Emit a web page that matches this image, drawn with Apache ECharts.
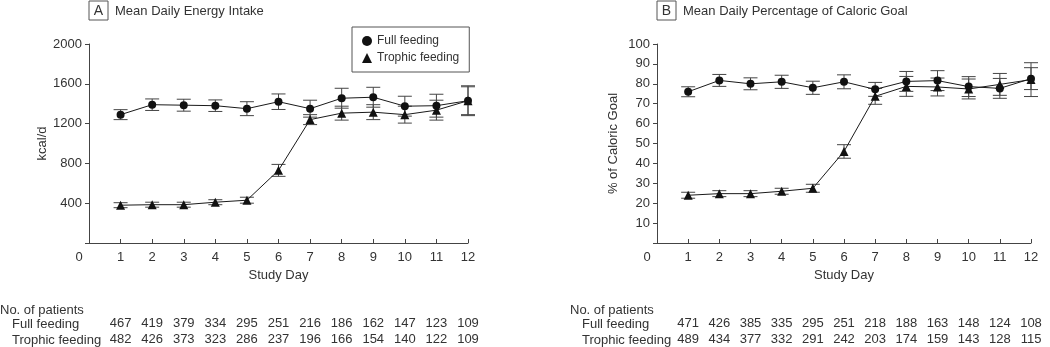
<!DOCTYPE html>
<html>
<head>
<meta charset="utf-8">
<title>Mean daily energy intake</title>
<script src="https://cdn.jsdelivr.net/npm/echarts@6/dist/echarts.min.js"></script>
<style>
  html, body { margin: 0; padding: 0; background: #fff; }
  #chart { width: 1050px; height: 347px; }
</style>
</head>
<body>
<div id="chart"></div>
<script>
// study days on the x axis
var days = [1, 2, 3, 4, 5, 6, 7, 8, 9, 10, 11, 12];

// panel A: kcal/d, mean and error half-width
var energyFull = [1290, 1390, 1385, 1380, 1350, 1420, 1350, 1455, 1465, 1375, 1380, 1430];
var energyFullErr = [50, 58, 60, 58, 70, 78, 85, 100, 100, 100, 115, 140];
var energyTrophic = [380, 385, 385, 410, 430, 730, 1240, 1305, 1315, 1290, 1335, 1430];
var energyTrophicErr = [25, 25, 25, 25, 30, 60, 50, 70, 75, 85, 100, 150];

// panel B: % of caloric goal
var goalFull = [76, 81.7, 80, 81, 78, 81, 77.2, 81.2, 81.6, 78.6, 77.7, 82.6];
var goalFullErr = [2.5, 3, 3, 3.3, 3.3, 3.5, 3.5, 5, 5, 5, 5, 5.5];
var goalTrophic = [24, 24.8, 24.8, 26, 27.5, 46, 73.7, 78.7, 78.4, 77.4, 79.7, 82.1];
var goalTrophicErr = [1.5, 1.5, 1.5, 1.5, 2, 3.4, 4, 5, 4.5, 5, 5.5, 8.5];

// number of patients under each day
var nEnergyFull = [467, 419, 379, 334, 295, 251, 216, 186, 162, 147, 123, 109];
var nEnergyTrophic = [482, 426, 373, 323, 286, 237, 196, 166, 154, 140, 122, 109];
var nGoalFull = [471, 426, 385, 335, 295, 251, 218, 188, 163, 148, 124, 108];
var nGoalTrophic = [489, 434, 377, 332, 291, 242, 203, 174, 159, 143, 128, 115];

var FONT = 'Liberation Sans, Arial, sans-serif';
var TEXT = '#333';
var AXIS = '#444';

function pairs(vals) {
  return days.map(function (d, i) { return [d, vals[i]]; });
}
function ranges(vals, errs) {
  return days.map(function (d, i) { return [d, vals[i] - errs[i], vals[i] + errs[i]]; });
}

function renderErr(params, api) {
  var lo = api.coord([api.value(0), api.value(1)]);
  var hi = api.coord([api.value(0), api.value(2)]);
  var w = 7;
  var st = { stroke: '#444', lineWidth: 1 };
  return {
    type: 'group',
    children: [
      { type: 'line', shape: { x1: lo[0], y1: lo[1], x2: hi[0], y2: hi[1] }, style: st },
      { type: 'line', shape: { x1: lo[0] - w, y1: lo[1], x2: lo[0] + w, y2: lo[1] }, style: st },
      { type: 'line', shape: { x1: hi[0] - w, y1: hi[1], x2: hi[0] + w, y2: hi[1] }, style: st }
    ]
  };
}

function mainX(grid) {
  return {
    type: 'value', gridIndex: grid, min: 0, max: 12, interval: 1,
    name: 'Study Day', nameLocation: 'middle', nameGap: 25,
    nameTextStyle: { color: TEXT, fontSize: 13, fontFamily: FONT },
    axisLine: { lineStyle: { color: AXIS, width: 1 } },
    axisTick: { inside: true, length: 4, lineStyle: { color: AXIS } },
    splitLine: { show: false },
    axisLabel: {
      color: TEXT, fontSize: 13, fontFamily: FONT, margin: 8,
      formatter: function (v) { return v === 0 ? '{z|0}' : String(v); },
      rich: { z: { color: TEXT, fontSize: 13, fontFamily: FONT, padding: [0, 20, 0, 0] } }
    }
  };
}

function countX(grid, offset, counts) {
  return {
    type: 'value', gridIndex: grid, min: 0, max: 12, interval: 1,
    position: 'bottom', offset: offset,
    axisLine: { show: false }, axisTick: { show: false }, splitLine: { show: false },
    axisLabel: {
      color: TEXT, fontSize: 13, fontFamily: FONT, margin: 8,
      formatter: function (v) { return v >= 1 && v <= 12 ? String(counts[v - 1]) : ''; }
    }
  };
}

function mainY(grid, max, interval, name) {
  return {
    type: 'value', gridIndex: grid, min: 0, max: max, interval: interval,
    name: name, nameLocation: 'middle', nameGap: 37, nameRotate: 90,
    nameTextStyle: { color: TEXT, fontSize: 13, fontFamily: FONT },
    axisLine: { show: true, lineStyle: { color: AXIS, width: 1 } },
    axisTick: { show: true, length: 4, lineStyle: { color: AXIS } },
    splitLine: { show: false },
    axisLabel: {
      color: TEXT, fontSize: 13, fontFamily: FONT, margin: 7,
      formatter: function (v) { return v === 0 ? '' : String(v); }
    }
  };
}

function lineSeries(name, symbol, size, xi, yi, vals) {
  return {
    name: name, type: 'line', xAxisIndex: xi, yAxisIndex: yi,
    data: pairs(vals), symbol: symbol, symbolSize: size, showSymbol: true,
    lineStyle: { color: '#1a1a1a', width: 1 },
    itemStyle: { color: '#111' },
    z: 3, animation: false
  };
}

function errSeries(xi, yi, vals, errs) {
  return {
    type: 'custom', xAxisIndex: xi, yAxisIndex: yi,
    renderItem: renderErr, encode: { x: 0, y: [1, 2] },
    data: ranges(vals, errs), z: 2, silent: true, animation: false
  };
}

function panelTitle(x, letter, text) {
  return [
    { type: 'rect', shape: { x: x, y: 1, width: 19, height: 19 },
      style: { fill: '#fff', stroke: '#555', lineWidth: 1 } },
    { type: 'text', x: x + 9.5, y: 11,
      style: { text: letter, fill: TEXT, font: '14px ' + FONT, align: 'center', verticalAlign: 'middle' } },
    { type: 'text', x: x + 26, y: 11,
      style: { text: text, fill: TEXT, font: '13px ' + FONT, verticalAlign: 'middle' } }
  ];
}

function rowLabels(x) {
  function t(dx, y, s) {
    return { type: 'text', x: x + dx, y: y,
      style: { text: s, fill: TEXT, font: '13px ' + FONT, verticalAlign: 'middle' } };
  }
  return [t(0, 310, 'No. of patients'), t(12, 324, 'Full feeding'), t(12, 340, 'Trophic feeding')];
}

var chart = echarts.init(document.getElementById('chart'), null, { renderer: 'canvas' });

var option = {
  backgroundColor: '#fff',
  animation: false,
  grid: [
    { left: 89, top: 44, width: 379, height: 199 },
    { left: 657, top: 44, width: 374, height: 199 }
  ],
  xAxis: [
    mainX(0),
    countX(0, 66, nEnergyFull),
    countX(0, 82, nEnergyTrophic),
    mainX(1),
    countX(1, 66, nGoalFull),
    countX(1, 82, nGoalTrophic)
  ],
  yAxis: [
    mainY(0, 2000, 400, 'kcal/d'),
    mainY(1, 100, 10, '% of Caloric Goal')
  ],
  legend: {
    left: 352, top: 27, orient: 'vertical',
    padding: [8, 10, 8, 10], itemGap: 5, itemWidth: 10, itemHeight: 10,
    borderColor: '#555', borderWidth: 1,
    textStyle: { color: TEXT, fontSize: 12, fontFamily: FONT },
    data: [
      { name: 'Full feeding', icon: 'circle' },
      { name: 'Trophic feeding', icon: 'triangle' }
    ]
  },
  graphic: []
    .concat(panelTitle(89, 'A', 'Mean Daily Energy Intake'))
    .concat(panelTitle(657, 'B', 'Mean Daily Percentage of Caloric Goal'))
    .concat(rowLabels(0))
    .concat(rowLabels(570)),
  series: [
    errSeries(0, 0, energyFull, energyFullErr),
    errSeries(0, 0, energyTrophic, energyTrophicErr),
    lineSeries('Full feeding', 'circle', 8, 0, 0, energyFull),
    lineSeries('Trophic feeding', 'triangle', 9, 0, 0, energyTrophic),
    errSeries(3, 1, goalFull, goalFullErr),
    errSeries(3, 1, goalTrophic, goalTrophicErr),
    lineSeries('Full feeding', 'circle', 8, 3, 1, goalFull),
    lineSeries('Trophic feeding', 'triangle', 9, 3, 1, goalTrophic)
  ]
};

chart.setOption(option);
window.addEventListener('resize', function () {
  chart.resize();
});
</script>
</body>
</html>
